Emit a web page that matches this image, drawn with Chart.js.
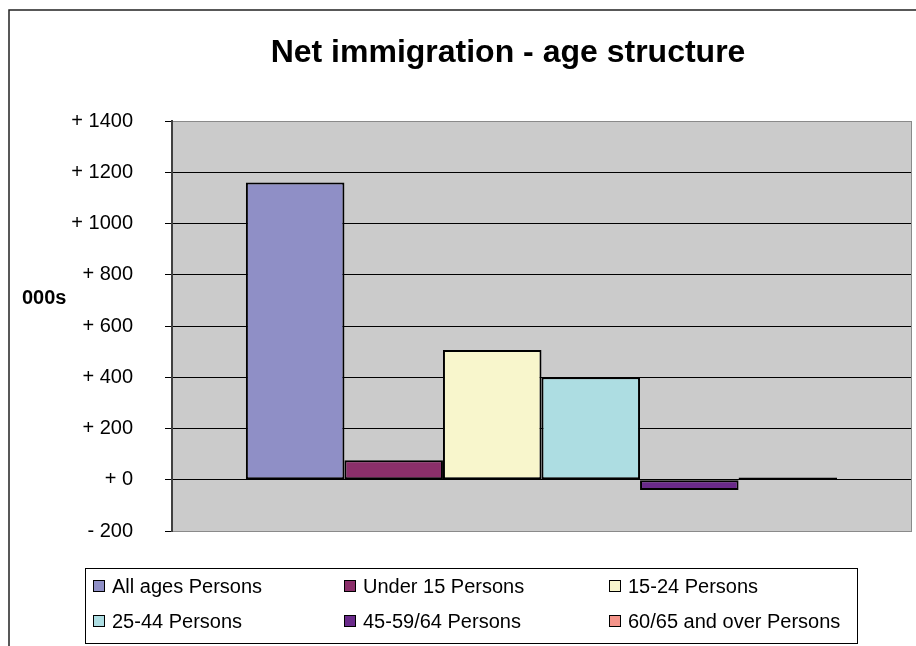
<!DOCTYPE html>
<html><head><meta charset="utf-8">
<script src="https://cdn.jsdelivr.net/npm/chart.js@4/dist/chart.umd.min.js"></script>
<style>html,body{margin:0;padding:0;background:#fff;}canvas{display:block;}</style>
</head><body>
<canvas id="c" width="916" height="646"></canvas>
<script>
// ---- data ----
const categories = [''];
const seriesNames = ['All ages Persons','Under 15 Persons','15-24 Persons','25-44 Persons','45-59/64 Persons','60/65 and over Persons'];
const allAges   = [1160];
const under15   = [76];
const age15to24 = [506];
const age25to44 = [400];
const age45to64 = [-40];
const age65plus = [9];
const yTickValues = [-200, 0, 200, 400, 600, 800, 1000, 1200, 1400];
const titleText = 'Net immigration - age structure';
const yAxisLabel = '000s';

// ---- styles ----
const seriesColors = ['#8F8FC6','#8B2F6A','#F8F6CC','#ADDDE2','#6A2A8A','#F4948A'];
const FONT = "'Liberation Sans', Arial, sans-serif";

const seriesValues = [allAges, under15, age15to24, age25to44, age45to64, age65plus];

const decor = {
  id: 'decor',
  beforeDraw(chart) {
    const {ctx, chartArea: a} = chart;
    ctx.save();
    ctx.fillStyle = '#CBCBCB';
    ctx.fillRect(a.left, a.top, a.right - a.left, a.bottom - a.top);
    ctx.restore();
  },
  afterDraw(chart) {
    const {ctx, chartArea: a} = chart;
    ctx.save();
    // plot right edge
    ctx.strokeStyle = '#8a8a8a'; ctx.lineWidth = 1;
    ctx.beginPath(); ctx.moveTo(a.right + 0.5, a.top); ctx.lineTo(a.right + 0.5, a.bottom + 1); ctx.stroke();
    // outer frame (cropped)
    ctx.strokeStyle = '#222'; ctx.lineWidth = 1.5;
    ctx.beginPath(); ctx.moveTo(9, 646); ctx.lineTo(9, 10); ctx.lineTo(916, 10); ctx.stroke();
    // title
    ctx.fillStyle = '#000';
    ctx.font = 'bold 32px ' + FONT;
    ctx.textAlign = 'center'; ctx.textBaseline = 'middle';
    ctx.fillText(titleText, 508, 53);
    // axis unit label
    ctx.font = 'bold 20px ' + FONT;
    ctx.textAlign = 'left';
    ctx.fillText(yAxisLabel, 22, 298);
    // legend
    const L = 85, T = 568, R = 857, B = 643;
    ctx.fillStyle = '#fff';
    ctx.fillRect(L, T, R - L, B - T);
    ctx.strokeStyle = '#000'; ctx.lineWidth = 1;
    ctx.strokeRect(L + 0.5, T + 0.5, R - L, B - T);
    const cols = [93, 344, 609], rows = [586, 621];
    ctx.font = '20px ' + FONT;
    chart.data.datasets.forEach((ds, i) => {
      const x = cols[i % 3], y = rows[Math.floor(i / 3)];
      ctx.fillStyle = ds.backgroundColor;
      ctx.fillRect(x, y - 6, 12, 12);
      ctx.strokeStyle = '#000';
      ctx.strokeRect(x + 0.5, y - 5.5, 11, 11);
      ctx.fillStyle = '#000';
      ctx.textAlign = 'left'; ctx.textBaseline = 'middle';
      ctx.fillText(ds.label, x + 19, y + 1);
    });
    ctx.restore();
  }
};

new Chart(document.getElementById('c'), {
  type: 'bar',
  data: {
    labels: categories,
    datasets: seriesNames.map((name, i) => ({
      label: name,
      data: seriesValues[i],
      backgroundColor: seriesColors[i],
      borderColor: '#000',
      borderWidth: 2,
      borderSkipped: false,
      categoryPercentage: 0.8,
      barPercentage: 1.0
    }))
  },
  options: {
    responsive: false,
    animation: false,
    devicePixelRatio: 1,
    layout: { padding: { left: 0, right: 5, top: 121, bottom: 115 } },
    plugins: { legend: { display: false }, title: { display: false }, tooltip: { enabled: false } },
    scales: {
      x: { display: false },
      y: {
        min: -200, max: 1400,
        afterBuildTicks(scale) { scale.ticks = yTickValues.map(v => ({ value: v })); },
        afterFit(scale) { scale.width = 172; },
        ticks: {
          color: '#000',
          padding: 32,
          font: { family: FONT, size: 20 },
          callback: v => (v < 0 ? '- ' + Math.abs(v) : '+ ' + v)
        },
        grid: {
          color: c => (c.tick && (c.tick.value === -200 || c.tick.value === 1400)) ? '#8a8a8a' : '#000',
          tickColor: '#000',
          tickLength: 7,
          lineWidth: 1
        },
        border: { display: true, color: '#404040', width: 2 }
      }
    }
  },
  plugins: [decor]
});
</script>
</body></html>
